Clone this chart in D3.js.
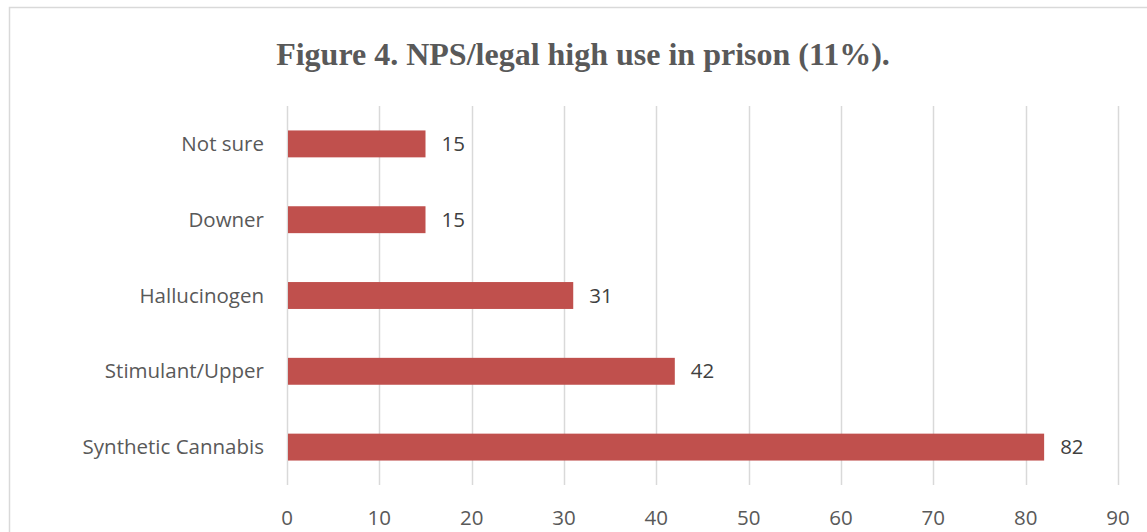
<!DOCTYPE html>
<html><head><meta charset="utf-8">
<script src="https://cdn.jsdelivr.net/npm/d3@7"></script>
<style>body{margin:0;background:#fff}svg{display:block}</style>
</head><body>
<script>
const categories = ["Not sure","Downer","Hallucinogen","Stimulant/Upper","Synthetic Cannabis"];
const values = [15,15,31,42,82];
const xTicks = [0,10,20,30,40,50,60,70,80,90];
const title = "Figure 4. NPS/legal high use in prison (11%).";

const W=1147,H=532;
const svg=d3.select("body").append("svg").attr("width",W).attr("height",H);
svg.append("rect").attr("x",9.5).attr("y",7.5).attr("width",W+20).attr("height",H+20)
  .attr("fill","#fff").attr("stroke","#d9d9d9").attr("stroke-width",1.5);

const x=d3.scaleLinear().domain([0,90]).range([287,1118]);
const y=d3.scaleBand().domain(categories).range([106,485]).paddingInner(0.645).paddingOuter(0.3225);

svg.append("text").attr("x",583).attr("y",65).attr("text-anchor","middle")
  .attr("font-family","Liberation Serif").attr("font-weight","bold").attr("font-size",32)
  .attr("fill","#595959").text(title);

svg.append("g").selectAll("line").data(xTicks).join("line")
  .attr("x1",d=>Math.round(x(d))+0.5).attr("x2",d=>Math.round(x(d))+0.5)
  .attr("y1",106).attr("y2",485).attr("stroke","#d9d9d9").attr("stroke-width",1.5);

svg.append("g").selectAll("rect").data(values).join("rect")
  .attr("x",x(0)+1).attr("y",(d,i)=>y(categories[i]))
  .attr("width",d=>x(d)-x(0)-1).attr("height",y.bandwidth()).attr("fill","#c0504d");

const font="Open Sans", fs=20.5;
svg.append("g").selectAll("text").data(values).join("text")
  .attr("x",d=>x(d)+16).attr("y",(d,i)=>y(categories[i])+y.bandwidth()/2)
  .attr("dy","0.35em").attr("font-family",font).attr("font-size",fs).attr("fill","#404040")
  .text(d=>d);

svg.append("g").selectAll("text").data(categories).join("text")
  .attr("x",264).attr("y",d=>y(d)+y.bandwidth()/2).attr("dy","0.35em")
  .attr("text-anchor","end").attr("font-family",font).attr("font-size",fs).attr("fill","#595959")
  .text(d=>d);

svg.append("g").selectAll("text").data(xTicks).join("text")
  .attr("x",d=>x(d)).attr("y",518).attr("dy","0.35em").attr("text-anchor","middle")
  .attr("font-family",font).attr("font-size",fs).attr("fill","#595959").text(d=>d);
</script>
</body></html>
